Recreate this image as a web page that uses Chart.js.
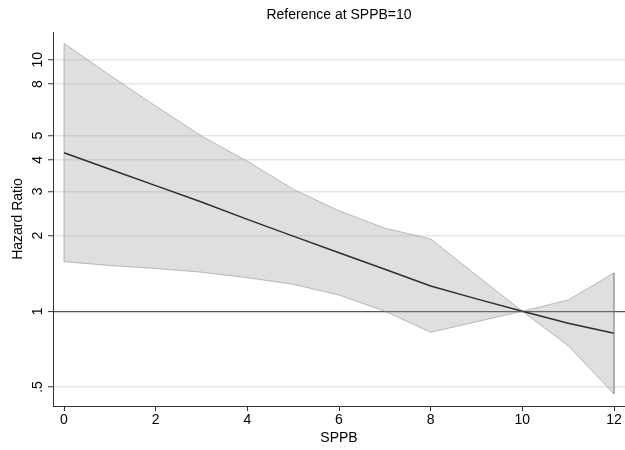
<!DOCTYPE html>
<html><head><meta charset="utf-8">
<script src="https://cdn.jsdelivr.net/npm/chart.js@4/dist/chart.umd.min.js"></script>
<style>html,body{margin:0;padding:0;background:#fff}</style>
</head><body>
<canvas id="c" width="625" height="450"></canvas>
<script>
// ---- data ----
const sppb       = [0, 1, 2, 3, 4, 5, 6, 7, 8, 9, 10, 11, 12];
const hrEstimate = [4.27, 3.67, 3.16, 2.72, 2.32, 1.99, 1.71, 1.47, 1.26, 1.12, 1.00, 0.896, 0.817];
const ciUpper    = [11.63, 8.68, 6.55, 4.98, 3.95, 3.06, 2.51, 2.14, 1.94, 1.39, 1.00, 1.109, 1.42];
const ciLower    = [1.575, 1.52, 1.48, 1.43, 1.36, 1.28, 1.16, 1.00, 0.825, 0.908, 1.00, 0.730, 0.469];
const xTicks      = [0, 2, 4, 6, 8, 10, 12];
const yTicks      = [0.5, 1, 2, 3, 4, 5, 8, 10];
const yTickLabels = ['.5', '1', '2', '3', '4', '5', '8', '10'];
const chartTitle = 'Reference at SPPB=10';
const xTitle = 'SPPB';
const yTitle = 'Hazard Ratio';
const refValue = 1;

const FAMILY = '"Liberation Sans", Arial, Helvetica, sans-serif';

// closed band polygon: upper from left to right, then lower back
const bandData = [];
sppb.forEach((x, i) => bandData.push({x: x, y: ciUpper[i]}));
for (let i = sppb.length - 1; i >= 0; i--) bandData.push({x: sppb[i], y: ciLower[i]});
bandData.push({x: sppb[0], y: ciUpper[0]});
const estData = sppb.map((x, i) => ({x: x, y: hrEstimate[i]}));

const textPlugin = {
  id: 'textPlugin',
  afterDraw(chart) {
    const c = chart.ctx, ys = chart.scales.y, area = chart.chartArea;
    c.save();
    c.fillStyle = '#000';
    c.font = '14px ' + FAMILY;
    c.textAlign = 'center';
    c.textBaseline = 'middle';
    yTicks.forEach((v, i) => {
      const py = ys.getPixelForValue(v);
      c.save();
      c.translate(38.5, py);
      c.rotate(-Math.PI / 2);
      c.fillText(yTickLabels[i], 0, 0);
      c.restore();
    });
    c.font = '14px ' + FAMILY;
    c.fillText(chartTitle, (area.left + area.right) / 2, 15);
    c.restore();
  }
};

new Chart(document.getElementById('c'), {
  type: 'scatter',
  data: {
    datasets: [
      {
        label: '95% CI', data: bandData, showLine: true, fill: 'shape',
        backgroundColor: 'rgba(150,150,150,0.3)', borderColor: 'rgba(130,130,130,0.5)',
        borderWidth: 1, pointRadius: 0, tension: 0
      },
      {
        label: 'Hazard ratio', data: estData, showLine: true, fill: false,
        borderColor: '#000', borderWidth: 1.5, pointRadius: 0, tension: 0
      }
    ]
  },
  options: {
    responsive: false, animation: false, events: [],
    layout: {padding: {top: 32, left: 0, right: 0, bottom: 0}},
    plugins: {legend: {display: false}, title: {display: false}, tooltip: {enabled: false}},
    scales: {
      x: {
        type: 'linear', min: -0.24, max: 12.24,
        afterBuildTicks: s => { s.ticks = xTicks.map(v => ({value: v})); },
        afterFit: s => { s.height = 44; },
        grid: {drawOnChartArea: false, drawTicks: true, tickLength: 5, tickColor: '#333', tickWidth: 1},
        border: {display: true, color: '#333', width: 1},
        ticks: {font: {size: 14, family: FAMILY}, color: '#000', padding: 1, maxRotation: 0, autoSkip: false},
        title: {display: true, text: xTitle, font: {size: 14, family: FAMILY}, color: '#000', padding: {top: 0, bottom: 3.6}}
      },
      y: {
        type: 'logarithmic', min: 0.42, max: 12.9,
        afterBuildTicks: s => { s.ticks = yTicks.map(v => ({value: v})); },
        afterFit: s => { s.width = 53; },
        grid: {
          color: ctx => (ctx.tick && ctx.tick.value === refValue) ? '#555' : '#e6e6e6',
          lineWidth: ctx => (ctx.tick && ctx.tick.value === refValue) ? 1.2 : 1.5,
          tickColor: '#333', tickLength: 5, tickWidth: 1, drawTicks: true
        },
        border: {display: true, color: '#333', width: 1},
        ticks: {display: false},
        title: {display: true, text: yTitle, font: {size: 14, family: FAMILY}, color: '#000', padding: {top: 9.6, bottom: 0}}
      }
    }
  },
  plugins: [textPlugin]
});
</script>
</body></html>
